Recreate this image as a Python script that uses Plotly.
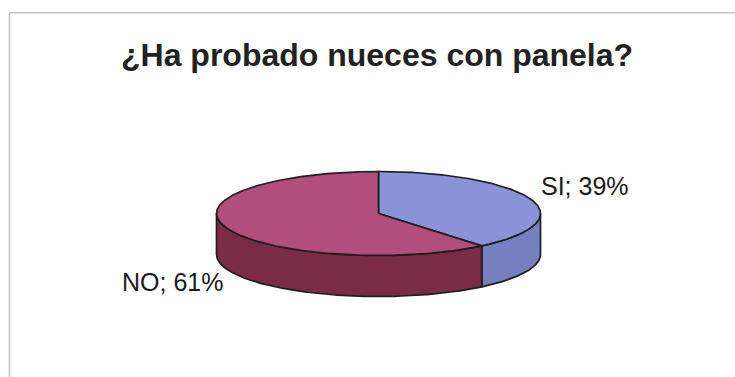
import numpy as np
import plotly.graph_objects as go

# Survey answers
labels = ["SI", "NO"]
values = [39, 61]

title_text = "¿Ha probado nueces con panela?"

# Style per slice: top face and darker side wall
top_colors = ["#8A92D8", "#B24E7C"]
side_colors = ["#7780BE", "#7A2B46"]
edge_color = "#1E1E1E"

W, H = 735, 377

# Pseudo-3D pie geometry in pixel space (y grows downward)
cx, cy = 378.5, 213.5
rx, ry = 162.0, 42.0
depth = 41.0


def pt(theta_deg, dy=0.0):
    t = np.radians(theta_deg)
    return cx + rx * np.sin(t), cy - ry * np.cos(t) + dy


def arc(t1, t2, dy=0.0, n=None):
    if n is None:
        n = max(int(abs(t2 - t1)) * 2, 4)
    ts = np.linspace(t1, t2, n)
    xs, ys = pt(ts, dy)
    return list(xs), list(ys)


total = float(sum(values))
bounds = [0.0]
for v in values:
    bounds.append(bounds[-1] + 360.0 * v / total)

fig = go.Figure()

# Side walls (only the front half of the rim is visible)
for i in range(len(values)):
    t1, t2 = bounds[i], bounds[i + 1]
    a, b = max(t1, 90.0), min(t2, 270.0)
    if a >= b:
        continue
    xt, yt = arc(a, b)
    xb, yb = arc(b, a, dy=depth)
    fig.add_trace(go.Scatter(
        x=xt + xb + [xt[0]], y=yt + yb + [yt[0]],
        mode="lines", fill="toself", fillcolor=side_colors[i],
        line=dict(color=edge_color, width=1.7),
        hoverinfo="skip", showlegend=False))

# Top faces
for i in range(len(values)):
    t1, t2 = bounds[i], bounds[i + 1]
    xa, ya = arc(t1, t2)
    fig.add_trace(go.Scatter(
        x=[cx] + xa + [cx], y=[cy] + ya + [cy],
        mode="lines", fill="toself", fillcolor=top_colors[i],
        line=dict(color=edge_color, width=1.7),
        hoverinfo="skip", showlegend=False))

# Data labels placed outside each slice, along its mid angle
lab_rx, lab_ry = 219.0, 80.0
for i, (lab, v) in enumerate(zip(labels, values)):
    mid = (bounds[i] + bounds[i + 1]) / 2.0
    t = np.radians(mid)
    lx = cx + lab_rx * np.sin(t)
    ly = cy - lab_ry * np.cos(t)
    if 90.0 < mid < 270.0:
        ly += depth
    fig.add_annotation(
        x=lx, y=ly, xref="x", yref="y", text=f"{lab}; {v}%",
        showarrow=False, xanchor="center", yanchor="middle",
        font=dict(family="Liberation Sans, Arial, sans-serif", size=25, color="#1A1A1A"))

# Chart title
fig.add_annotation(
    x=377, y=55, xref="x", yref="y", text=f"<b>{title_text}</b>",
    showarrow=False, xanchor="center", yanchor="middle",
    font=dict(family="Liberation Sans, Arial, sans-serif", size=32, color="#222222"))

# Chart-area frame (top and left edges)
fig.add_shape(type="line", xref="paper", yref="paper",
              x0=9.5 / W, x1=1.0, y0=1 - 12.7 / H, y1=1 - 12.7 / H,
              line=dict(color="#C4C4C4", width=1.6))
fig.add_shape(type="line", xref="paper", yref="paper",
              x0=9.5 / W, x1=9.5 / W, y0=0.0, y1=1 - 12.7 / H,
              line=dict(color="#C4C4C4", width=1.6))

fig.update_layout(
    width=W, height=H,
    margin=dict(l=0, r=0, t=0, b=0),
    paper_bgcolor="white", plot_bgcolor="white",
    xaxis=dict(range=[0, W], visible=False, fixedrange=True),
    yaxis=dict(range=[H, 0], visible=False, fixedrange=True),
    showlegend=False,
)

fig.write_html("out.html")
